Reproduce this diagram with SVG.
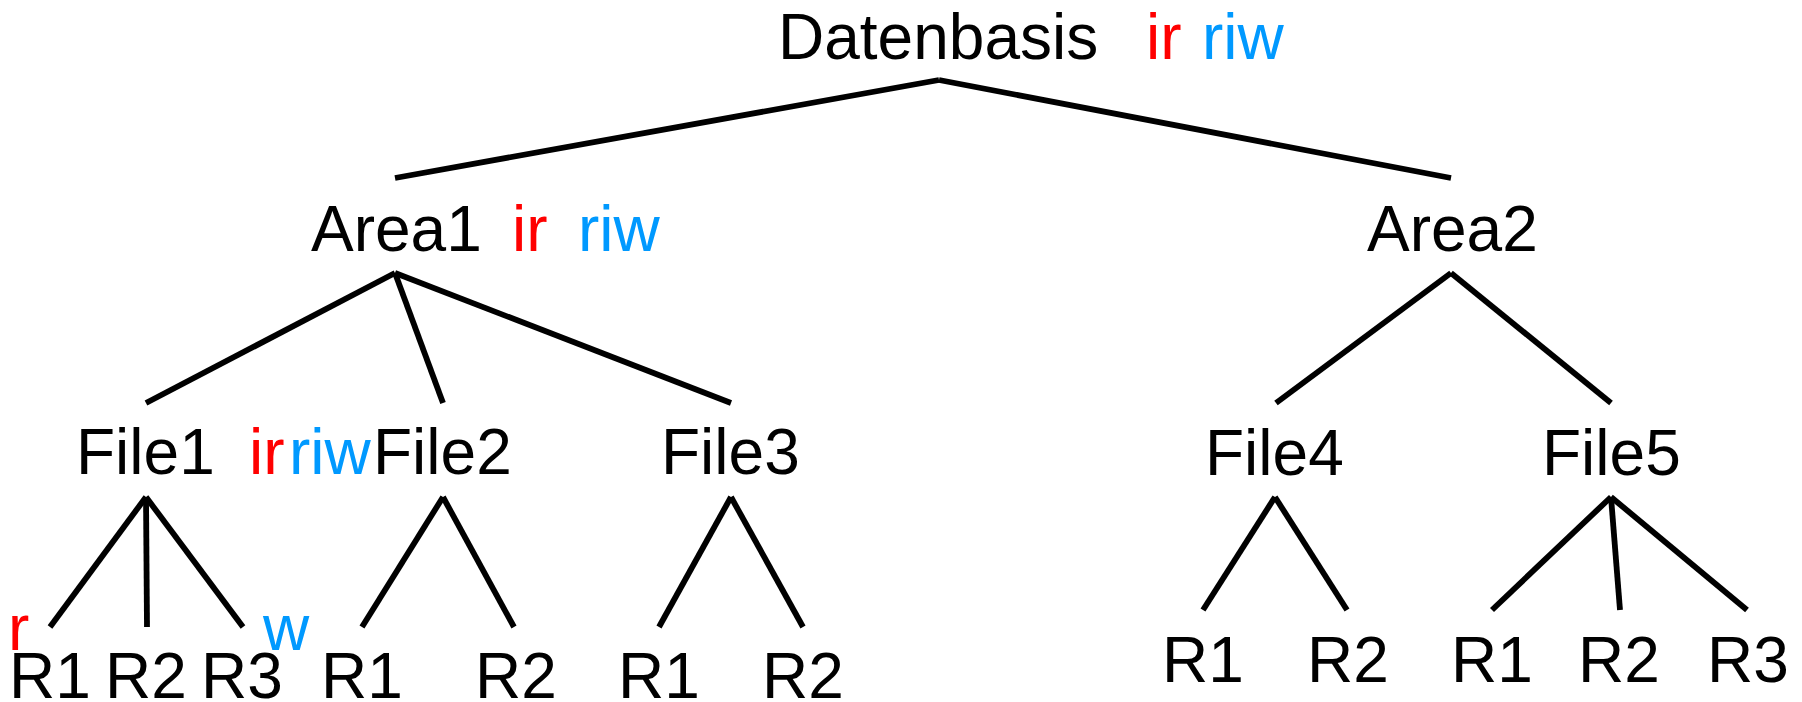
<svg xmlns="http://www.w3.org/2000/svg" width="1802" height="702" viewBox="0 0 1802 702">
  <style>
    text { font-family: "Liberation Sans", Arial, sans-serif; font-size: 64px; fill: #000; }
    .r { fill: #ff0000; }
    .w { fill: #0099ff; }
    #connectors line { stroke: #000; stroke-width: 5.8; stroke-linecap: butt; }
  </style>
  <rect width="1802" height="702" fill="#fff"/>

  <g id="connectors">
    <!-- Datenbasis -->
    <line x1="939" y1="80" x2="395" y2="178"/>
    <line x1="939" y1="80" x2="1451" y2="178"/>
    <!-- Area1 -->
    <line x1="395" y1="273" x2="146" y2="403"/>
    <line x1="395" y1="273" x2="443" y2="403"/>
    <line x1="395" y1="273" x2="731" y2="403"/>
    <!-- Area2 -->
    <line x1="1451" y1="273" x2="1276" y2="403"/>
    <line x1="1451" y1="273" x2="1611" y2="403"/>
    <!-- File1 -->
    <line x1="146" y1="497" x2="50" y2="627"/>
    <line x1="146" y1="497" x2="147" y2="627"/>
    <line x1="146" y1="497" x2="243" y2="627"/>
    <!-- File2 -->
    <line x1="443" y1="497" x2="362" y2="627"/>
    <line x1="443" y1="497" x2="514" y2="627"/>
    <!-- File3 -->
    <line x1="731" y1="497" x2="659" y2="627"/>
    <line x1="731" y1="497" x2="803" y2="627"/>
    <!-- File4 -->
    <line x1="1275" y1="497" x2="1203" y2="610"/>
    <line x1="1275" y1="497" x2="1347" y2="610"/>
    <!-- File5 -->
    <line x1="1611" y1="497" x2="1492" y2="610"/>
    <line x1="1611" y1="497" x2="1620" y2="610"/>
    <line x1="1611" y1="497" x2="1747" y2="610"/>
  </g>

  <g id="datenbasis">
    <text x="778" y="59">Datenbasis</text>
    <text class="r" x="1146" y="59">ir</text>
    <text class="w" x="1202" y="59">riw</text>
  </g>

  <g id="area1">
    <text x="311" y="251">Area1</text>
    <text class="r" x="512" y="251">ir</text>
    <text class="w" x="578" y="251">riw</text>
  </g>
  <g id="area2">
    <text x="1367" y="251">Area2</text>
  </g>

  <g id="file1">
    <text x="76" y="474">File1</text>
    <text class="r" x="249" y="474">ir</text>
    <text class="w" x="289" y="474">riw</text>
  </g>
  <g id="file2"><text x="373" y="474">File2</text></g>
  <g id="file3"><text x="661" y="474">File3</text></g>
  <g id="file4"><text x="1205" y="475">File4</text></g>
  <g id="file5"><text x="1542" y="475">File5</text></g>

  <!-- records of File1 -->
  <g id="file1-r1">
    <text class="r" x="8" y="650">r</text>
    <text x="9" y="698">R1</text>
  </g>
  <g id="file1-r2"><text x="105" y="698">R2</text></g>
  <g id="file1-r3">
    <text x="201" y="698">R3</text>
    <text class="w" x="263" y="650">w</text>
  </g>
  <!-- records of File2 -->
  <g id="file2-r1"><text x="321" y="698">R1</text></g>
  <g id="file2-r2"><text x="475" y="698">R2</text></g>
  <!-- records of File3 -->
  <g id="file3-r1"><text x="618" y="698">R1</text></g>
  <g id="file3-r2"><text x="762" y="698">R2</text></g>
  <!-- records of File4 -->
  <g id="file4-r1"><text x="1162" y="682">R1</text></g>
  <g id="file4-r2"><text x="1307" y="682">R2</text></g>
  <!-- records of File5 -->
  <g id="file5-r1"><text x="1451" y="682">R1</text></g>
  <g id="file5-r2"><text x="1578" y="682">R2</text></g>
  <g id="file5-r3"><text x="1707" y="682">R3</text></g>
</svg>
